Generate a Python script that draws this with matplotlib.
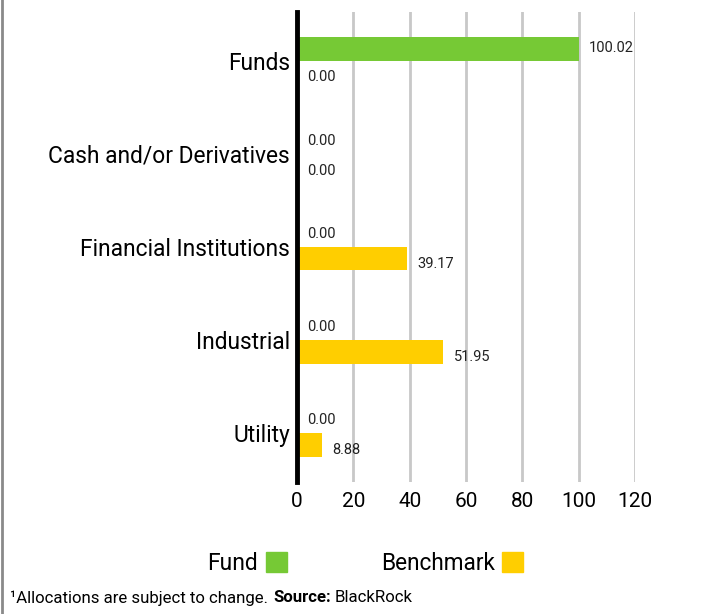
import matplotlib
matplotlib.use("Agg")
import matplotlib.pyplot as plt
from matplotlib.lines import Line2D
from matplotlib.patches import Rectangle
import numpy as np

categories = ["Funds", "Cash and/or Derivatives", "Financial Institutions", "Industrial", "Utility"]
fund_values = [100.02, 0.00, 0.00, 0.00, 0.00]
benchmark_values = [0.00, 0.00, 39.17, 51.95, 8.88]
series_names = ["Fund", "Benchmark"]
x_ticks = [0, 20, 40, 60, 80, 100, 120]

GREEN = "#76C935"
YELLOW = "#FFCE00"
FONT = "Roboto"

plt.rcParams["font.family"] = [FONT, "DejaVu Sans"]

W, H = 718, 614
fig = plt.figure(figsize=(W / 100, H / 100), dpi=100)
ax = fig.add_axes([297 / W, 1 - 482 / H, (635 - 297) / W, (482 - 12) / H])

y = np.arange(len(categories))
bh = 0.252
ax.barh(y - bh / 2, fund_values, height=bh, color=GREEN, zorder=3)
ax.barh(y + bh / 2, benchmark_values, height=bh, color=YELLOW, zorder=3)

for yi, v in zip(y, fund_values):
    ax.annotate(f"{v:.2f}", (v, yi - bh / 2), xytext=(7.5, 1), textcoords="offset points",
                ha="left", va="center", fontsize=10.5, color="#222222")
for yi, v in zip(y, benchmark_values):
    ax.annotate(f"{v:.2f}", (v, yi + bh / 2), xytext=(7.5, -3.5), textcoords="offset points",
                ha="left", va="center", fontsize=10.5, color="#222222")

ax.set_xlim(0, 120)
ax.set_ylim(4.525, -0.525)
ax.set_xticks(x_ticks)
ax.set_xticklabels([str(t) for t in x_ticks], fontsize=15)
ax.set_yticks(y)
ax.set_yticklabels(categories, fontsize=16.4)
ax.tick_params(axis="both", length=0)
ax.tick_params(axis="x", pad=7)
ax.tick_params(axis="y", pad=5)
ax.grid(axis="x", color="#c8c8c8", linewidth=2, zorder=0)
ax.set_axisbelow(True)
for s in ["top", "right", "bottom"]:
    ax.spines[s].set_visible(False)
ax.spines["left"].set_linewidth(3.5)
ax.spines["left"].set_color("black")
ax.spines["left"].set_zorder(5)

# legend
ly = 1 - 563 / H
fig.text(258 / W, ly, series_names[0], ha="right", va="center", fontsize=16.5)
fig.add_artist(Rectangle((266 / W, 1 - 572 / H), 21 / W, 20 / H, transform=fig.transFigure,
                         color=GREEN))
fig.text(495 / W, ly, series_names[1], ha="right", va="center", fontsize=16.3)
fig.add_artist(Rectangle((502 / W, 1 - 572 / H), 21 / W, 20 / H, transform=fig.transFigure,
                         color=YELLOW))

# footnote
fy = 1 - 598 / H
fs = 12.1
t1 = fig.text(10 / W, fy, "\u00b9Allocations are subject to change.", ha="left", va="center", fontsize=fs)
fig.canvas.draw()
r = fig.canvas.get_renderer()
bb = t1.get_window_extent(r)
t2 = fig.text((bb.x1 + 5) / W, fy, "Source:", ha="left", va="center", fontsize=fs, fontweight="bold")
bb2 = t2.get_window_extent(r)
fig.text((bb2.x1 + 4) / W, fy, "BlackRock", ha="left", va="center", fontsize=fs)

# left frame line
fig.add_artist(Line2D([1.5 / W, 1.5 / W], [0, 1], transform=fig.transFigure, color="#8a8a8a", linewidth=2))

fig.savefig("out.png", dpi=100, facecolor="white")
